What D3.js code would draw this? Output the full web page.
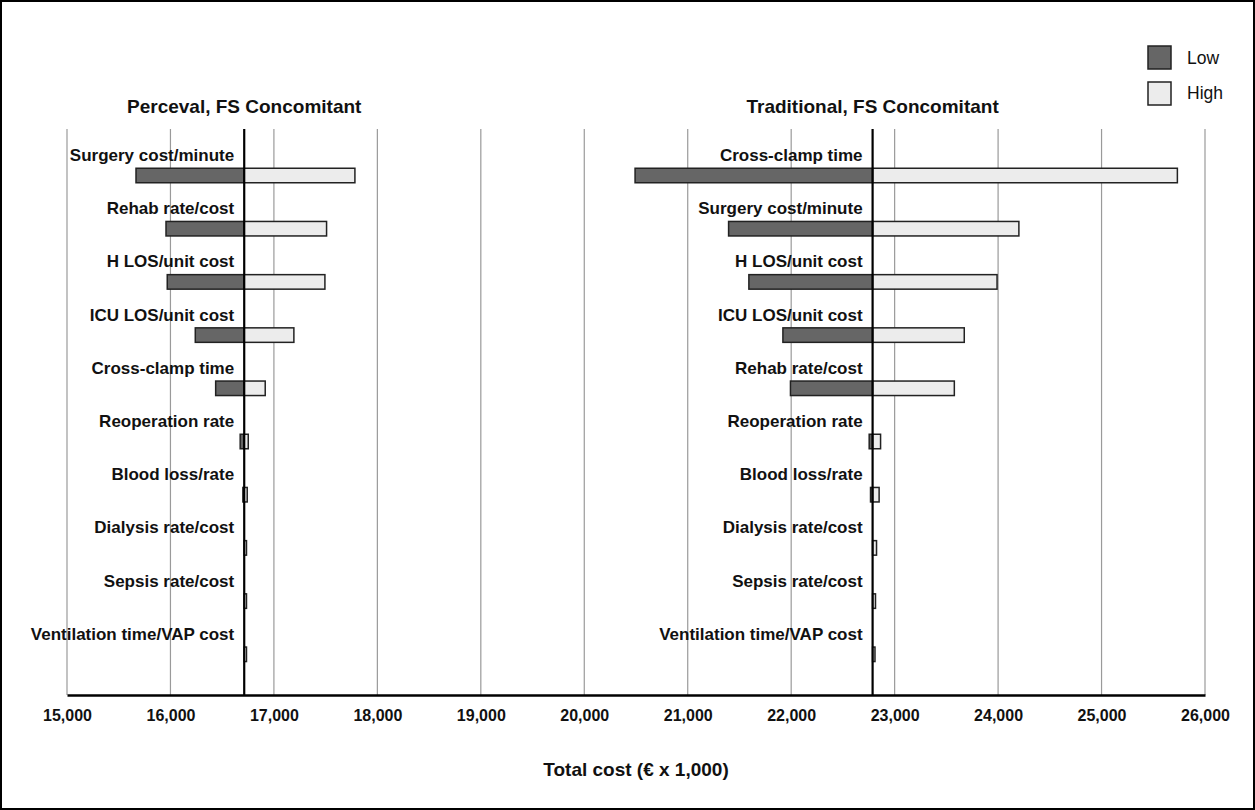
<!DOCTYPE html>
<html><head><meta charset="utf-8">
<script src="https://cdn.jsdelivr.net/npm/d3@7"></script>
<style>body{margin:0;background:#fff}svg{display:block}text{font-family:"Liberation Sans",Arial,Helvetica,sans-serif}</style>
</head><body><svg id="c" width="1255" height="810"></svg>
<script>
const ticks = [15000,16000,17000,18000,19000,20000,21000,22000,23000,24000,25000,26000];
const leftTitle = "Perceval, FS Concomitant";
const leftBase = 16713;
const leftCats = ["Surgery cost/minute","Rehab rate/cost","H LOS/unit cost","ICU LOS/unit cost","Cross-clamp time","Reoperation rate","Blood loss/rate","Dialysis rate/cost","Sepsis rate/cost","Ventilation time/VAP cost"];
const leftLow  = [15667,15957,15969,16240,16437,16674,16700,16713,16713,16713];
const leftHigh = [17783,17509,17493,17193,16916,16752,16742,16735,16735,16735];
const rightTitle = "Traditional, FS Concomitant";
const rightBase = 22787;
const rightCats = ["Cross-clamp time","Surgery cost/minute","H LOS/unit cost","ICU LOS/unit cost","Rehab rate/cost","Reoperation rate","Blood loss/rate","Dialysis rate/cost","Sepsis rate/cost","Ventilation time/VAP cost"];
const rightLow  = [20491,21395,21591,21920,21993,22754,22767,22787,22787,22787];
const rightHigh = [25733,24201,23990,23673,23577,22864,22850,22825,22815,22810];
const legendLabels = ["Low","High"];
const axisTitle = "Total cost (€ x 1,000)";

(function(){
const svg = d3.select("#c");
const W=1255,H=810;
svg.append("rect").attr("x",1).attr("y",1).attr("width",W-2).attr("height",H-2).attr("fill","#fff").attr("stroke","#000").attr("stroke-width",2);

const plotTop=129, plotBottom=695;
const x = d3.scaleLinear().domain([15000,26000]).range([67,1205]);
const lowFill="#666", highFill="#ececec";

svg.append("g").selectAll("line").data(ticks).join("line")
  .attr("x1",d=>x(d)).attr("x2",d=>x(d)).attr("y1",plotTop).attr("y2",plotBottom)
  .attr("stroke","#9a9a9a").attr("stroke-width",1.2);

const ax = svg.append("g").attr("transform",`translate(0,${plotBottom})`)
  .call(d3.axisBottom(x).tickValues(ticks).tickFormat(d3.format(",")).tickSize(0).tickPadding(15));
ax.select(".domain").attr("stroke","#000").attr("stroke-width",2.5);
ax.selectAll("text").attr("font-size",16).attr("font-weight","bold").attr("fill","#111")
  .style("font-family",'"Liberation Sans",Arial,sans-serif');

function panel(title, base, cats, low, high){
  const y = d3.scalePoint().domain(cats).range([175.5,654.3]);
  const g = svg.append("g");
  const bh=14.5;
  g.selectAll("rect.lo").data(cats).join("rect").attr("class","lo")
    .attr("x",(d,i)=>x(Math.min(low[i],base))).attr("width",(d,i)=>Math.abs(x(base)-x(low[i])))
    .attr("y",d=>y(d)-bh/2).attr("height",bh)
    .attr("fill",lowFill).attr("stroke","#222").attr("stroke-width",1.5);
  g.selectAll("rect.hi").data(cats).join("rect").attr("class","hi")
    .attr("x",(d,i)=>x(Math.min(high[i],base))).attr("width",(d,i)=>Math.abs(x(high[i])-x(base)))
    .attr("y",d=>y(d)-bh/2).attr("height",bh)
    .attr("fill",highFill).attr("stroke","#222").attr("stroke-width",1.5);
  g.append("line").attr("x1",x(base)).attr("x2",x(base)).attr("y1",plotTop).attr("y2",plotBottom)
    .attr("stroke","#000").attr("stroke-width",2.2);
  g.selectAll("text.lab").data(cats).join("text").attr("class","lab")
    .attr("x",x(base)-10).attr("y",d=>y(d)-14.5).attr("text-anchor","end")
    .attr("font-size",17).attr("font-weight","bold").attr("fill","#111").text(d=>d);
  g.append("text").attr("x",x(base)).attr("y",113).attr("text-anchor","middle")
    .attr("font-size",19).attr("font-weight","bold").attr("fill","#111").text(title);
}
panel(leftTitle,leftBase,leftCats,leftLow,leftHigh);
panel(rightTitle,rightBase,rightCats,rightLow,rightHigh);

svg.append("text").attr("x",636).attr("y",776).attr("text-anchor","middle")
  .attr("font-size",19).attr("font-weight","bold").attr("fill","#111").text(axisTitle);

const lg = svg.append("g");
const fills=[lowFill,highFill];
legendLabels.forEach((t,i)=>{
  lg.append("rect").attr("x",1148).attr("y",46+i*36).attr("width",23).attr("height",23)
    .attr("fill",fills[i]).attr("stroke","#222").attr("stroke-width",1.5);
  lg.append("text").attr("x",1187).attr("y",63.5+i*35).attr("font-size",17.5).attr("fill","#111").text(t);
});
})();
</script></body></html>
